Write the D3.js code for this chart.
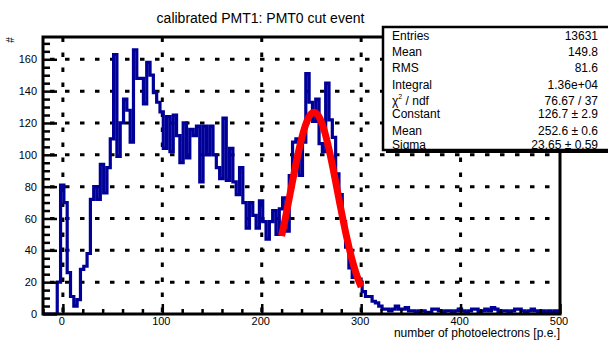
<!DOCTYPE html>
<html>
<head>
<meta charset="utf-8">
<script src="https://d3js.org/d3.v7.min.js"></script>
<style>
  body { margin: 0; background: #fff; }
  svg { display: block; font-family: "Liberation Sans", Arial, Helvetica, sans-serif; }
</style>
</head>
<body>
<div id="chart"></div>
<script>
// histogram binning (calibrated p.e. axis)
var binLow = -22.333;
var binWidth = 10 / 3;

// bin contents
var counts = [0, 0, 0, 0, 0, 20, 81, 70, 26, 11,
  5, 9, 28, 30, 38, 72, 80, 72, 94, 76,
  92, 110, 163, 99, 120, 135, 128, 108, 166, 148,
  148, 132, 158, 150, 139, 133, 127, 104, 124, 102,
  125, 112, 95, 120, 98, 116, 112, 118, 83, 118,
  100, 118, 100, 92, 85, 123, 84, 104, 83, 75,
  92, 70, 54, 70, 62, 54, 71, 58, 47, 58,
  65, 50, 66, 73, 52, 87, 108, 110, 87, 108,
  151, 133, 121, 135, 107, 102, 145, 122, 111, 88,
  75, 58, 42, 29, 23, 23, 20, 14, 11, 11,
  8, 7, 5, 3, 3, 2, 3, 5, 3, 3,
  4, 2, 2, 1, 2, 2, 1, 1, 3, 3,
  2, 1, 2, 2, 1, 2, 3, 2, 1, 2,
  3, 3, 1, 2, 3, 2, 4, 3, 1, 2,
  2, 1, 2, 3, 3, 2, 1, 2, 3, 2,
  1, 2, 1, 2, 1, 2, 1];

// gaus fit result
var fitConstant = 126.7;
var fitMean = 252.6;
var fitSigma = 23.65;
var fitRange = [220, 300];

var xTicks = [0, 100, 200, 300, 400, 500];
var yTicks = [0, 20, 40, 60, 80, 100, 120, 140, 160];

var statsLabels = ["Entries", "Mean", "RMS", "Integral", "chi2", "Constant", "Mean", "Sigma"];
var statsValues = ["13631", "149.8", "81.6", "1.36e+04", "76.67 / 37",
  "126.7 \u00b1 2.9", "252.6 \u00b1 0.6", "23.65 \u00b1 0.59"];

var title = "calibrated PMT1: PMT0 cut event";
var xTitle = "number of photoelectrons [p.e.]";
var yTitle = "#";

var W = 608, H = 344;
var frame = {left: 43, right: 560, top: 37, bottom: 314};

var svg = d3.select("#chart").append("svg")
    .attr("width", W)
    .attr("height", H);

var xScale = d3.scaleLinear().domain([-20, 500]).range([frame.left, frame.right]);
var yScale = d3.scaleLinear().domain([0, 174]).range([frame.bottom, frame.top]);

svg.append("defs").append("clipPath").attr("id", "frameClip")
  .append("rect")
    .attr("x", frame.left).attr("y", frame.top)
    .attr("width", frame.right - frame.left)
    .attr("height", frame.bottom - frame.top);

// dotted grid
var grid = svg.append("g").attr("class", "grid")
    .style("stroke", "black")
    .style("stroke-width", 3)
    .style("stroke-dasharray", "4.5 10.5");

grid.selectAll("line.h").data(yTicks.slice(1)).enter().append("line")
    .attr("class", "h")
    .attr("x1", frame.left).attr("x2", frame.right)
    .attr("y1", function(d) { return yScale(d); })
    .attr("y2", function(d) { return yScale(d); })
    .style("stroke-dashoffset", 8);

grid.selectAll("line.v").data(xTicks.slice(0, -1)).enter().append("line")
    .attr("class", "v")
    .attr("x1", function(d) { return xScale(d); })
    .attr("x2", function(d) { return xScale(d); })
    .attr("y1", frame.bottom - 2).attr("y2", frame.top);

// histogram outline
var pts = [[binLow, 0]];
counts.forEach(function(c, i) {
    pts.push([binLow + i * binWidth, c]);
});
pts.push([binLow + counts.length * binWidth, counts[counts.length - 1]]);

var histLine = d3.line()
    .x(function(d) { return xScale(d[0]); })
    .y(function(d) { return yScale(d[1]); })
    .curve(d3.curveStepAfter);

svg.append("path")
    .attr("clip-path", "url(#frameClip)")
    .attr("d", histLine(pts))
    .style("fill", "none")
    .style("stroke", "#000099")
    .style("stroke-width", 3.2);

// fit function
var fitPts = d3.range(101).map(function(i) {
    var x = fitRange[0] + i * (fitRange[1] - fitRange[0]) / 100;
    var z = (x - fitMean) / fitSigma;
    return [x, fitConstant * Math.exp(-0.5 * z * z)];
});

svg.append("path")
    .attr("d", d3.line()
        .x(function(d) { return xScale(d[0]); })
        .y(function(d) { return yScale(d[1]); })(fitPts))
    .style("fill", "none")
    .style("stroke", "#ff0000")
    .style("stroke-width", 7);

// axes, ticks pointing into the frame
var yMinor = d3.range(0, 175, 5).filter(function(v) { return v % 20 !== 0; });
var xMinor = d3.range(-20, 501, 20).filter(function(v) { return v % 100 !== 0; });

var yAxis = svg.append("g")
    .attr("transform", "translate(" + frame.left + ",0)")
    .call(d3.axisLeft(yScale).tickValues(yTicks).tickSize(-14).tickSizeOuter(0).tickPadding(6));
svg.append("g")
    .attr("transform", "translate(" + frame.left + ",0)")
    .call(d3.axisLeft(yScale).tickValues(yMinor).tickSize(-7).tickSizeOuter(0).tickFormat(""));

var xAxis = svg.append("g")
    .attr("transform", "translate(0," + frame.bottom + ")")
    .call(d3.axisBottom(xScale).tickValues(xTicks).tickSize(-10).tickSizeOuter(0).tickPadding(3));
svg.append("g")
    .attr("transform", "translate(0," + frame.bottom + ")")
    .call(d3.axisBottom(xScale).tickValues(xMinor).tickSize(-5).tickSizeOuter(0).tickFormat(""));

svg.selectAll(".domain").remove();
svg.selectAll(".tick line").style("stroke", "black").style("stroke-width", 2.5);
svg.selectAll(".tick text")
    .style("fill", "black")
    .style("font-family", "'Liberation Sans', Arial, sans-serif")
    .style("font-size", "11px");
xAxis.selectAll(".tick text").attr("dx", -1.5);

// frame
svg.append("rect")
    .attr("x", frame.left).attr("y", frame.top)
    .attr("width", frame.right - frame.left)
    .attr("height", frame.bottom - frame.top)
    .style("fill", "none")
    .style("stroke", "black")
    .style("stroke-width", 3);

// axis titles
svg.append("text")
    .attr("x", frame.right).attr("y", 337)
    .style("text-anchor", "end")
    .style("font-size", "12px")
    .text(xTitle);

svg.append("text")
    .attr("transform", "translate(14,40) rotate(-90)")
    .style("text-anchor", "middle")
    .style("font-size", "10px")
    .text(yTitle);

// title
svg.append("text")
    .attr("x", 260.5).attr("y", 23)
    .style("text-anchor", "middle")
    .style("font-size", "14px")
    .text(title);

// stats box with shadow
var box = {x: 383, y: 27, w: 240, h: 123};
svg.append("rect")
    .attr("x", box.x + 3).attr("y", box.y + 3)
    .attr("width", box.w).attr("height", box.h)
    .style("fill", "black");
svg.append("rect")
    .attr("x", box.x).attr("y", box.y)
    .attr("width", box.w).attr("height", box.h)
    .style("fill", "white")
    .style("stroke", "black")
    .style("stroke-width", 2.5);

var rowBase = [39.5, 55.5, 72, 88.5, 104.5, 117.5, 135, 149];
var stats = svg.append("g").style("font-size", "12px");

statsLabels.forEach(function(lbl, i) {
    var t = stats.append("text").attr("x", 392).attr("y", rowBase[i]);
    if (lbl === "chi2") {
        t.append("tspan").text("\u03c7");
        t.append("tspan").attr("dy", -6).style("font-size", "7px").text("2");
        t.append("tspan").attr("dy", 6).text("  / ndf");
    } else {
        t.text(lbl);
    }
    stats.append("text")
        .attr("x", 598).attr("y", rowBase[i])
        .style("text-anchor", "end")
        .text(statsValues[i]);
});
</script>
</body>
</html>
